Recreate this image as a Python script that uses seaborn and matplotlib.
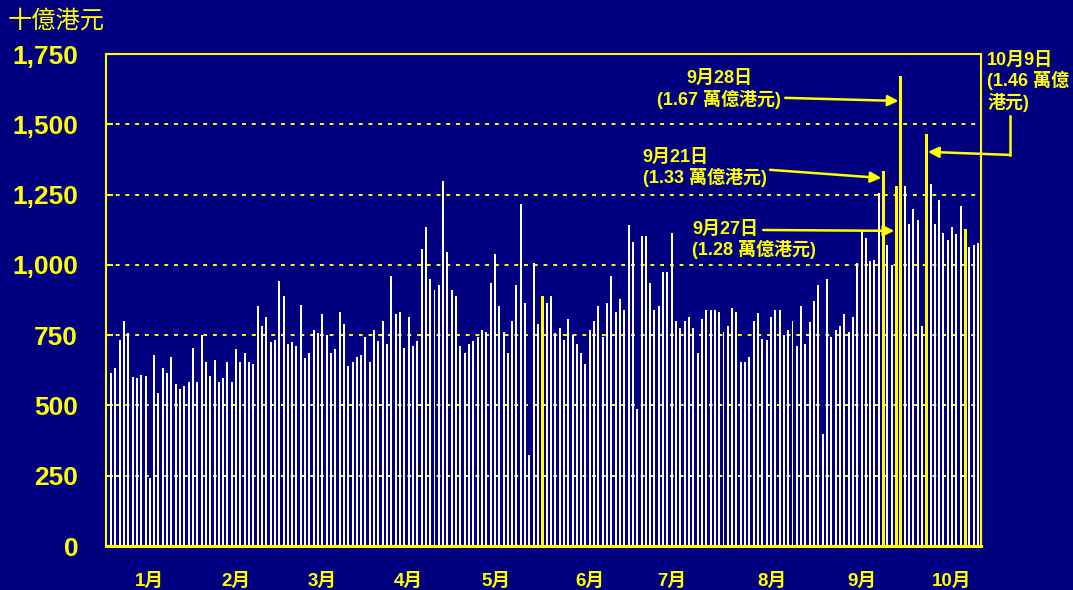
import matplotlib
matplotlib.use('Agg')
import matplotlib.pyplot as plt
import seaborn as sns
import pandas as pd

# daily turnover, HK$ billion
turnover = [
    617, 632, 731, 799, 756, 600, 596, 610, 603, 241,
    681, 543, 632, 617, 674, 575, 557, 568, 585, 703,
    582, 749, 656, 603, 660, 582, 596, 653, 585, 699,
    656, 685, 653, 646, 852, 781, 816, 724, 731,
    941, 888, 717, 724, 710, 856, 667, 685, 767, 756,
    824, 752, 688, 699, 831, 788, 639, 653, 671, 681,
    745, 653, 770, 728, 799, 717, 959, 824, 831, 703,
    813, 713, 728, 1055, 1133, 948, 912, 927, 1300, 1044,
    912, 891, 713, 685, 717, 728, 742, 767, 760, 934,
    1040, 852, 760, 685, 799, 930, 1215, 866, 322, 1005,
    788, 891, 866, 888, 756, 774, 731, 809, 752, 717,
    685, 646, 770, 802, 852, 742, 866, 962, 831, 877,
    838, 1140, 1083, 489, 1101, 1101, 934, 841, 852, 973,
    976, 1115, 799, 774, 802, 816, 774, 685, 809, 838,
    838, 841, 831, 760, 781, 845, 831, 653, 653, 674,
    802, 827, 738, 731, 813, 838, 841, 752, 767,
    799, 713, 852, 717, 795, 873, 927, 400, 948, 742,
    770, 784, 824, 760, 816, 1005, 1119, 1097, 1012, 1019,
    1257, 1335, 1072, 1001, 1280, 1670, 1282, 1147, 1200, 1158,
    784, 1465, 1286, 1147, 1232, 1115, 1090, 1133, 1111, 1211,
    1126, 1062, 1069, 1076,
]
highlight_idx = [100, 179, 182, 183, 189, 198]

month_labels = ['1月', '2月', '3月', '4月', '5月', '6月', '7月', '8月', '9月', '10月']
month_ticks = [9, 29, 49, 69, 89.3, 111, 130, 153.3, 174, 195]
y_ticks = [0, 250, 500, 750, 1000, 1250, 1500, 1750]

NAVY = '#000080'
YEL = '#ffff00'

plt.rcParams['font.family'] = ['Liberation Sans', 'Noto Sans CJK TC', 'DejaVu Sans']

df = pd.DataFrame({'day': range(len(turnover)), 'value': turnover})
df['hl'] = df['day'].isin(highlight_idx)

fig = plt.figure(figsize=(10.73, 5.9), dpi=100, facecolor=NAVY)
ax = fig.add_axes([106 / 1073, 44 / 590, 875 / 1073, 492 / 590])
ax.set_facecolor(NAVY)

sns.barplot(data=df[~df.hl], x='day', y='value', native_scale=True, color='white',
            width=0.46, saturation=1, errorbar=None, linewidth=0, ax=ax)
sns.barplot(data=df[df.hl], x='day', y='value', native_scale=True, color=YEL,
            width=0.7, saturation=1, errorbar=None, linewidth=0, ax=ax)

ax.set_xlim(-1.16, 201.7)
ax.set_ylim(0, 1750)
ax.set_xlabel('')
ax.set_ylabel('')

ax.set_yticks(y_ticks)
ax.set_yticklabels([f'{v:,}' for v in y_ticks], fontweight='bold')
ax.tick_params(axis='y', direction='in', length=5, width=1.5, color=YEL,
               labelcolor=YEL, labelsize=19, pad=20)
ax.set_xticks(month_ticks)
ax.set_xticklabels(month_labels, fontweight='bold')
ax.tick_params(axis='x', length=0, pad=19, labelcolor=YEL, labelsize=13.5)

ax.grid(axis='y', color=YEL, linestyle=(0, (2, 3)), linewidth=1.4)
ax.set_axisbelow(True)
for side, sp in ax.spines.items():
    sp.set_color(YEL)
    sp.set_linewidth(2.2 if side == 'bottom' else 1.5)

fig.text(8 / 1073, 1 - 21 / 590, '十億港元', ha='left', va='center',
         fontsize=17.5, color=YEL, fontweight='medium')

txt = dict(fontsize=13, fontweight='bold', color=YEL, linespacing=1.15)
arrow = dict(arrowstyle='-|>', color=YEL, lw=1.8, mutation_scale=16,
             shrinkA=0, shrinkB=0)

ax.text(141.0, 1624, '9月28日\n(1.67 萬億港元)', ha='center', va='center',
        multialignment='center', **txt)
ax.annotate('', xy=(182.6, 1583), xytext=(156.3, 1594), arrowprops=arrow)

ax.text(123.3, 1345, '9月21日\n(1.33 萬億港元)', ha='left', va='center', **txt)
ax.annotate('', xy=(178.6, 1309), xytext=(152.8, 1338), arrowprops=arrow)

ax.text(134.7, 1089, '9月27日\n(1.28 萬億港元)', ha='left', va='center', **txt)
ax.annotate('', xy=(181.6, 1121), xytext=(151.2, 1124), arrowprops=arrow)

ax.text(203.1, 1651, '10月9日\n(1.46 萬億\n港元)', ha='left', va='center',
        clip_on=False, **txt)
ax.plot([208.4, 208.4], [1530, 1391], color=YEL, lw=1.8, clip_on=False)
ax.annotate('', xy=(189.4, 1402), xytext=(208.4, 1391), arrowprops=arrow,
            annotation_clip=False)

fig.savefig('out.png', dpi=100, facecolor=fig.get_facecolor())
